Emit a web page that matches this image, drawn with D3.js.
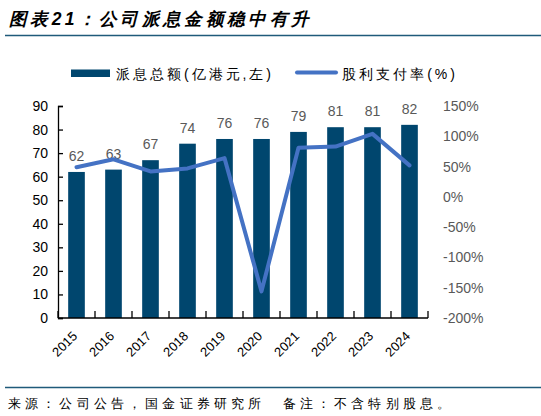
<!DOCTYPE html>
<html><head><meta charset="utf-8">
<script src="https://cdn.jsdelivr.net/npm/d3@7/dist/d3.min.js"></script>
<style>body{margin:0;background:#fff}svg{display:block}text{font-family:"Liberation Sans",Arial,sans-serif}</style>
</head><body>
<svg id="c" width="541" height="416"></svg>
<script>
const years = ["2015","2016","2017","2018","2019","2020","2021","2022","2023","2024"];
const dividend = [62, 63, 67, 74, 76, 76, 79, 81, 81, 82];
const payout = [49, 62, 42, 47, 64, -156, 81, 83, 104, 52];
const leftTicks = [0,10,20,30,40,50,60,70,80,90];
const rightTicks = [-200,-150,-100,-50,0,50,100,150];
const title = "图表21：公司派息金额稳中有升";
const source = "来源：公司公告，国金证券研究所　备注：不含特别股息。";
const legendLabels = ["派息总额(亿港元,左)", "股利支付率(%)"];

const svg = d3.select("#c");
const barColor = "#00466e", lineColor = "#4472c4", cjk = '"Noto Sans CJK SC",sans-serif';
const L = 58, R = 428, T = 106, B = 318;

svg.append("text").attr("x", 9).attr("y", 25).attr("font-family", cjk)
  .attr("font-size", 17.5).attr("font-weight", "bold").attr("font-style", "italic")
  .attr("textLength", 300).attr("lengthAdjust", "spacing")
  .attr("fill", "#000").text(title);
svg.append("line").attr("x1", 5).attr("x2", 541).attr("y1", 35.5).attr("y2", 35.5)
  .attr("stroke", "#1f5a7a").attr("stroke-width", 1.3);
svg.append("line").attr("x1", 5).attr("x2", 541).attr("y1", 387.5).attr("y2", 387.5)
  .attr("stroke", "#1f5a7a").attr("stroke-width", 1.3);
svg.append("text").attr("x", 8).attr("y", 408).attr("font-family", cjk)
  .attr("font-size", 12.5).attr("fill", "#000")
  .attr("textLength", 442).attr("lengthAdjust", "spacing").text(source);

// legend
svg.append("rect").attr("x", 71).attr("y", 69.5).attr("width", 39).attr("height", 7.5).attr("fill", barColor);
svg.append("text").attr("x", 116).attr("y", 78.5).attr("font-family", cjk).attr("font-size", 14)
  .attr("textLength", 155).attr("lengthAdjust", "spacing")
  .attr("fill", "#000").text(legendLabels[0]);
svg.append("line").attr("x1", 297).attr("x2", 336).attr("y1", 72.5).attr("y2", 72.5)
  .attr("stroke", lineColor).attr("stroke-width", 4).attr("stroke-linecap", "round");
svg.append("text").attr("x", 342).attr("y", 78.5).attr("font-family", cjk).attr("font-size", 14)
  .attr("textLength", 113).attr("lengthAdjust", "spacing")
  .attr("fill", "#000").text(legendLabels[1]);

const x = d3.scaleBand().domain(years).range([L, R]).paddingInner(0.55).paddingOuter(0.275);
const yL = d3.scaleLinear().domain([0, 90]).range([B, T]);
const yR = d3.scaleLinear().domain([-200, 150]).range([B, T]);

// bars
svg.append("g").selectAll("rect").data(years).join("rect")
  .attr("x", d => x(d)).attr("width", x.bandwidth())
  .attr("y", (d,i) => yL(dividend[i])).attr("height", (d,i) => B - yL(dividend[i]))
  .attr("fill", barColor);

// data labels
svg.append("g").selectAll("text").data(years).join("text")
  .attr("x", d => x(d) + x.bandwidth()/2).attr("y", (d,i) => yL(dividend[i]) - 11)
  .attr("text-anchor", "middle").attr("font-size", 14).attr("fill", "#595959")
  .text((d,i) => dividend[i]);

// left axis
const gL = svg.append("g").attr("transform", `translate(${L},0)`)
  .call(d3.axisLeft(yL).tickValues(leftTicks).tickSize(-5).tickPadding(10));
gL.select(".domain").attr("stroke", "#000").attr("stroke-width", 1.3);
gL.selectAll(".tick line").attr("stroke", "#000").attr("stroke-width", 1.3);
gL.selectAll("text").attr("font-size", 14).attr("fill", "#000").attr("font-family", '"Liberation Sans",Arial,sans-serif');

// right axis labels (no line)
const gR = svg.append("g").attr("transform", `translate(${R},0)`)
  .call(d3.axisRight(yR).tickValues(rightTicks).tickSize(0).tickPadding(15).tickFormat(d => d + "%"));
gR.select(".domain").remove();
gR.selectAll("text").attr("font-size", 14).attr("fill", "#595959").attr("font-family", '"Liberation Sans",Arial,sans-serif');

// bottom axis
const step = x.step();
const gB = svg.append("g").attr("transform", `translate(0,${B})`);
gB.append("line").attr("x1", L).attr("x2", R).attr("y1", 0).attr("y2", 0).attr("stroke", "#000").attr("stroke-width", 1.3);
gB.selectAll("line.t").data(d3.range(years.length + 1)).join("line").attr("class","t")
  .attr("x1", i => L + i*step).attr("x2", i => L + i*step).attr("y1", 0).attr("y2", -7)
  .attr("stroke", "#000").attr("stroke-width", 1.3);
gB.selectAll("text").data(years).join("text")
  .attr("transform", d => `translate(${x(d) + x.bandwidth()/2 + 1.5},${19}) rotate(-45)`)
  .attr("text-anchor", "end").attr("font-size", 13).attr("fill", "#000").text(d => d);

// line
const line = d3.line().x((d,i) => x(years[i]) + x.bandwidth()/2).y(d => yR(d));
svg.append("path").datum(payout).attr("d", line).attr("fill", "none")
  .attr("stroke", lineColor).attr("stroke-width", 4).attr("stroke-linejoin", "round").attr("stroke-linecap", "round");
</script>
</body></html>
